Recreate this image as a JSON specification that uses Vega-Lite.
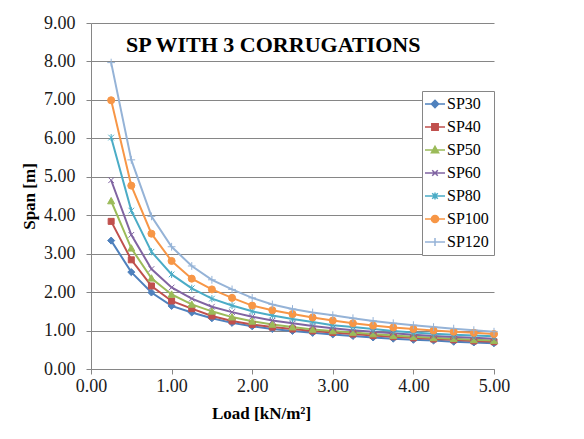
{
  "$schema": "https://vega.github.io/schema/vega-lite/v6.json",
  "autosize": {"type": "none"},
  "width": 403,
  "height": 346,
  "padding": {"left": 91, "top": 23, "right": 90, "bottom": 70},
  "background": "white",
  "config": {
    "font": "Liberation Serif",
    "view": {"stroke": null},
    "axis": {"labelFont": "Liberation Serif", "titleFont": "Liberation Serif", "labelFontSize": 18, "labelColor": "#1a1a1a", "titleColor": "#000000", "titleFontSize": 17, "titleFontWeight": "bold", "domainColor": "#868686", "tickColor": "#868686", "gridColor": "#868686", "gridWidth": 1},
    "legend": {"labelFont": "Liberation Serif"},
    "text": {"font": "Liberation Serif"}
  },
  "data": {"values": [
    {"load":0.25,"span":3.34,"series":"SP30"},{"load":0.5,"span":2.52,"series":"SP30"},{"load":0.75,"span":1.99,"series":"SP30"},{"load":1.0,"span":1.64,"series":"SP30"},{"load":1.25,"span":1.47,"series":"SP30"},{"load":1.5,"span":1.32,"series":"SP30"},{"load":1.75,"span":1.2,"series":"SP30"},{"load":2.0,"span":1.11,"series":"SP30"},{"load":2.25,"span":1.04,"series":"SP30"},{"load":2.5,"span":0.99,"series":"SP30"},{"load":2.75,"span":0.94,"series":"SP30"},{"load":3.0,"span":0.9,"series":"SP30"},{"load":3.25,"span":0.86,"series":"SP30"},{"load":3.5,"span":0.82,"series":"SP30"},{"load":3.75,"span":0.79,"series":"SP30"},{"load":4.0,"span":0.76,"series":"SP30"},{"load":4.25,"span":0.74,"series":"SP30"},{"load":4.5,"span":0.71,"series":"SP30"},{"load":4.75,"span":0.69,"series":"SP30"},{"load":5.0,"span":0.67,"series":"SP30"},
    {"load":0.25,"span":3.84,"series":"SP40"},{"load":0.5,"span":2.84,"series":"SP40"},{"load":0.75,"span":2.16,"series":"SP40"},{"load":1.0,"span":1.77,"series":"SP40"},{"load":1.25,"span":1.57,"series":"SP40"},{"load":1.5,"span":1.38,"series":"SP40"},{"load":1.75,"span":1.25,"series":"SP40"},{"load":2.0,"span":1.16,"series":"SP40"},{"load":2.25,"span":1.09,"series":"SP40"},{"load":2.5,"span":1.04,"series":"SP40"},{"load":2.75,"span":0.99,"series":"SP40"},{"load":3.0,"span":0.95,"series":"SP40"},{"load":3.25,"span":0.91,"series":"SP40"},{"load":3.5,"span":0.87,"series":"SP40"},{"load":3.75,"span":0.84,"series":"SP40"},{"load":4.0,"span":0.81,"series":"SP40"},{"load":4.25,"span":0.78,"series":"SP40"},{"load":4.5,"span":0.76,"series":"SP40"},{"load":4.75,"span":0.73,"series":"SP40"},{"load":5.0,"span":0.71,"series":"SP40"},
    {"load":0.25,"span":4.37,"series":"SP50"},{"load":0.5,"span":3.14,"series":"SP50"},{"load":0.75,"span":2.36,"series":"SP50"},{"load":1.0,"span":1.94,"series":"SP50"},{"load":1.25,"span":1.68,"series":"SP50"},{"load":1.5,"span":1.5,"series":"SP50"},{"load":1.75,"span":1.35,"series":"SP50"},{"load":2.0,"span":1.24,"series":"SP50"},{"load":2.25,"span":1.16,"series":"SP50"},{"load":2.5,"span":1.09,"series":"SP50"},{"load":2.75,"span":1.03,"series":"SP50"},{"load":3.0,"span":0.99,"series":"SP50"},{"load":3.25,"span":0.95,"series":"SP50"},{"load":3.5,"span":0.91,"series":"SP50"},{"load":3.75,"span":0.87,"series":"SP50"},{"load":4.0,"span":0.84,"series":"SP50"},{"load":4.25,"span":0.81,"series":"SP50"},{"load":4.5,"span":0.79,"series":"SP50"},{"load":4.75,"span":0.76,"series":"SP50"},{"load":5.0,"span":0.74,"series":"SP50"},
    {"load":0.25,"span":4.91,"series":"SP60"},{"load":0.5,"span":3.49,"series":"SP60"},{"load":0.75,"span":2.6,"series":"SP60"},{"load":1.0,"span":2.12,"series":"SP60"},{"load":1.25,"span":1.83,"series":"SP60"},{"load":1.5,"span":1.62,"series":"SP60"},{"load":1.75,"span":1.48,"series":"SP60"},{"load":2.0,"span":1.36,"series":"SP60"},{"load":2.25,"span":1.26,"series":"SP60"},{"load":2.5,"span":1.19,"series":"SP60"},{"load":2.75,"span":1.12,"series":"SP60"},{"load":3.0,"span":1.06,"series":"SP60"},{"load":3.25,"span":1.01,"series":"SP60"},{"load":3.5,"span":0.97,"series":"SP60"},{"load":3.75,"span":0.93,"series":"SP60"},{"load":4.0,"span":0.89,"series":"SP60"},{"load":4.25,"span":0.86,"series":"SP60"},{"load":4.5,"span":0.83,"series":"SP60"},{"load":4.75,"span":0.81,"series":"SP60"},{"load":5.0,"span":0.79,"series":"SP60"},
    {"load":0.25,"span":6.02,"series":"SP80"},{"load":0.5,"span":4.12,"series":"SP80"},{"load":0.75,"span":3.05,"series":"SP80"},{"load":1.0,"span":2.46,"series":"SP80"},{"load":1.25,"span":2.1,"series":"SP80"},{"load":1.5,"span":1.83,"series":"SP80"},{"load":1.75,"span":1.65,"series":"SP80"},{"load":2.0,"span":1.5,"series":"SP80"},{"load":2.25,"span":1.39,"series":"SP80"},{"load":2.5,"span":1.3,"series":"SP80"},{"load":2.75,"span":1.22,"series":"SP80"},{"load":3.0,"span":1.14,"series":"SP80"},{"load":3.25,"span":1.09,"series":"SP80"},{"load":3.5,"span":1.04,"series":"SP80"},{"load":3.75,"span":0.99,"series":"SP80"},{"load":4.0,"span":0.95,"series":"SP80"},{"load":4.25,"span":0.92,"series":"SP80"},{"load":4.5,"span":0.89,"series":"SP80"},{"load":4.75,"span":0.87,"series":"SP80"},{"load":5.0,"span":0.85,"series":"SP80"},
    {"load":0.25,"span":6.99,"series":"SP100"},{"load":0.5,"span":4.77,"series":"SP100"},{"load":0.75,"span":3.52,"series":"SP100"},{"load":1.0,"span":2.81,"series":"SP100"},{"load":1.25,"span":2.35,"series":"SP100"},{"load":1.5,"span":2.07,"series":"SP100"},{"load":1.75,"span":1.85,"series":"SP100"},{"load":2.0,"span":1.65,"series":"SP100"},{"load":2.25,"span":1.53,"series":"SP100"},{"load":2.5,"span":1.43,"series":"SP100"},{"load":2.75,"span":1.34,"series":"SP100"},{"load":3.0,"span":1.26,"series":"SP100"},{"load":3.25,"span":1.19,"series":"SP100"},{"load":3.5,"span":1.13,"series":"SP100"},{"load":3.75,"span":1.08,"series":"SP100"},{"load":4.0,"span":1.04,"series":"SP100"},{"load":4.25,"span":1.0,"series":"SP100"},{"load":4.5,"span":0.97,"series":"SP100"},{"load":4.75,"span":0.94,"series":"SP100"},{"load":5.0,"span":0.91,"series":"SP100"},
    {"load":0.25,"span":7.97,"series":"SP120"},{"load":0.5,"span":5.44,"series":"SP120"},{"load":0.75,"span":3.97,"series":"SP120"},{"load":1.0,"span":3.18,"series":"SP120"},{"load":1.25,"span":2.68,"series":"SP120"},{"load":1.5,"span":2.32,"series":"SP120"},{"load":1.75,"span":2.07,"series":"SP120"},{"load":2.0,"span":1.85,"series":"SP120"},{"load":2.25,"span":1.68,"series":"SP120"},{"load":2.5,"span":1.56,"series":"SP120"},{"load":2.75,"span":1.47,"series":"SP120"},{"load":3.0,"span":1.4,"series":"SP120"},{"load":3.25,"span":1.32,"series":"SP120"},{"load":3.5,"span":1.25,"series":"SP120"},{"load":3.75,"span":1.19,"series":"SP120"},{"load":4.0,"span":1.14,"series":"SP120"},{"load":4.25,"span":1.09,"series":"SP120"},{"load":4.5,"span":1.05,"series":"SP120"},{"load":4.75,"span":1.01,"series":"SP120"},{"load":5.0,"span":0.97,"series":"SP120"}
  ]},
  "encoding": {
    "x": {"field": "load", "type": "quantitative", "scale": {"domain": [0, 5], "nice": false, "zero": true}, "axis": {"title": "Load [kN/m²]", "values": [0,1,2,3,4,5], "format": ".2f", "grid": false, "tickSize": 5, "labelPadding": 3, "labelFlush": false, "labelOverlap": false, "titleX": 170, "titleY": 49, "titleBaseline": "alphabetic"}},
    "y": {"field": "span", "type": "quantitative", "scale": {"domain": [0, 9], "nice": false}, "axis": {"title": "Span [m]", "values": [0,1,2,3,4,5,6,7,8,9], "format": ".2f", "grid": true, "tickSize": 5, "labelPadding": 11, "labelFlush": false, "labelOverlap": false, "titleX": -53, "titlePadding": 10}}
  },
  "layer": [
    {
      "data": {"values": [{"label": "SP WITH 3 CORRUGATIONS", "load": 2.26, "span": 8.25}]},
      "mark": {"type": "text", "font": "Liberation Serif", "fontSize": 22, "fontWeight": "bold", "fill": "#000000", "align": "center", "baseline": "alphabetic"},
      "encoding": {"text": {"field": "label", "type": "nominal"}}
    },
    {
      "mark": {"type": "line", "strokeWidth": 2},
      "encoding": {
        "color": {"field": "series", "type": "nominal", "sort": ["SP30","SP40","SP50","SP60","SP80","SP100","SP120"],
          "scale": {"domain": ["SP30","SP40","SP50","SP60","SP80","SP100","SP120"], "range": ["#4F81BD","#C0504D","#9BBB59","#8064A2","#4BACC6","#F79646","#95B3D7"]},
          "legend": {"title": null, "orient": "none", "legendX": 331, "legendY": 68, "padding": 5, "fillColor": "white", "strokeColor": "#868686", "labelFont": "Liberation Serif", "labelFontSize": 16, "labelColor": "#000000", "symbolSize": 64, "symbolStrokeWidth": 1.5, "rowPadding": 7, "labelOffset": 4,
            "encode": {"symbols": {"update": {
              "shape": {"signal": "datum.value=='SP30'?'M-2.5,0L2.5,0M0,-0.9L0.9,0L0,0.9L-0.9,0Z':datum.value=='SP40'?'M-2.5,0L2.5,0M-0.8,-0.8L0.8,-0.8L0.8,0.8L-0.8,0.8Z':datum.value=='SP50'?'M-2.5,0L2.5,0M0,-0.9L0.9,0.7L-0.9,0.7Z':datum.value=='SP60'?'M-2.5,0L2.5,0M-0.7,-0.7L0.7,0.7M-0.7,0.7L0.7,-0.7':datum.value=='SP80'?'M-2.5,0L2.5,0M-0.7,-0.7L0.7,0.7M-0.7,0.7L0.7,-0.7M0,-0.9L0,0.9':datum.value=='SP100'?'M-2.5,0L2.5,0M-0.9,0A0.9,0.9 0 1,0 0.9,0A0.9,0.9 0 1,0 -0.9,0Z':'M-2.5,0L2.5,0M0,-1L0,1'"},
              "fill": {"scale": "color", "field": "value"},
              "stroke": {"scale": "color", "field": "value"},
              "fillOpacity": {"value": 1},
              "strokeWidth": {"value": 1.5}
            }}}
          }
        }
      }
    },
    {"transform": [{"filter": "datum.series=='SP30'"}], "mark": {"type": "point", "filled": true, "size": 50, "opacity": 1, "shape": "M0,-1L1,0L0,1L-1,0Z", "color": "#4F81BD", "stroke": "#4F81BD", "strokeWidth": 1}},
    {"transform": [{"filter": "datum.series=='SP40'"}], "mark": {"type": "point", "filled": true, "size": 50, "opacity": 1, "shape": "M-0.85,-0.85L0.85,-0.85L0.85,0.85L-0.85,0.85Z", "color": "#C0504D", "stroke": "#C0504D", "strokeWidth": 1}},
    {"transform": [{"filter": "datum.series=='SP50'"}], "mark": {"type": "point", "filled": true, "size": 50, "opacity": 1, "shape": "M0,-1L1,0.8L-1,0.8Z", "color": "#9BBB59", "stroke": "#9BBB59", "strokeWidth": 1}},
    {"transform": [{"filter": "datum.series=='SP60'"}], "mark": {"type": "point", "filled": true, "size": 50, "opacity": 1, "shape": "M-0.8,-0.8L0.8,0.8M-0.8,0.8L0.8,-0.8", "color": "#8064A2", "stroke": "#8064A2", "strokeWidth": 1}},
    {"transform": [{"filter": "datum.series=='SP80'"}], "mark": {"type": "point", "filled": true, "size": 50, "opacity": 1, "shape": "M-0.8,-0.8L0.8,0.8M-0.8,0.8L0.8,-0.8M0,-1L0,1", "color": "#4BACC6", "stroke": "#4BACC6", "strokeWidth": 1}},
    {"transform": [{"filter": "datum.series=='SP100'"}], "mark": {"type": "point", "filled": true, "size": 50, "opacity": 1, "shape": "circle", "color": "#F79646", "stroke": "#F79646", "strokeWidth": 1}},
    {"transform": [{"filter": "datum.series=='SP120'"}], "mark": {"type": "point", "filled": true, "size": 50, "opacity": 1, "shape": "M-1.1,0L1.1,0M0,-1.1L0,1.1", "color": "#95B3D7", "stroke": "#95B3D7", "strokeWidth": 1}}
  ]
}
